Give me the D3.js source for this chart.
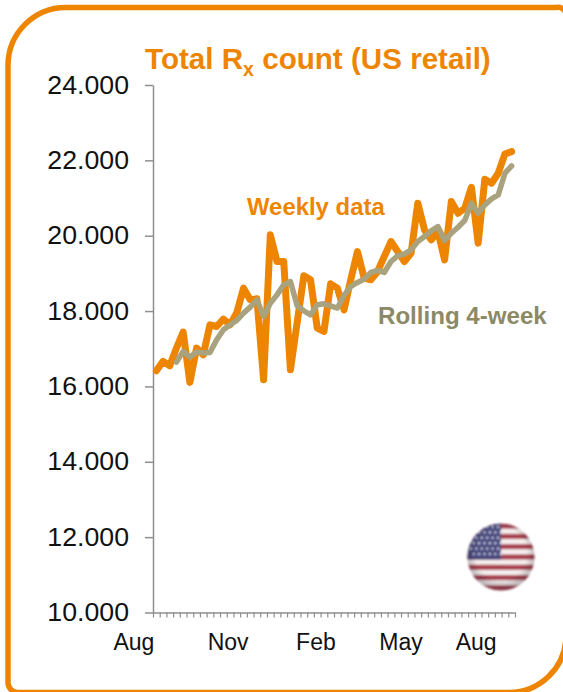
<!DOCTYPE html>
<html><head><meta charset="utf-8">
<script src="https://cdn.jsdelivr.net/npm/d3@7"></script>
<style>html,body{margin:0;padding:0;background:#fff}svg{display:block}text{font-family:"Liberation Sans",Arial,sans-serif}</style>
</head><body><svg id="c" width="563" height="692"></svg>
<script>
const weekly=[16417,16664,16549,17018,17443,16107,17018,16841,17636,17591,17787,17636,17955,18609,18300,18326,16178,20023,19315,19315,16443,17690,18936,18830,17549,17460,18723,18609,18034,18830,19580,18874,18830,19050,19447,19845,19580,19315,19538,20863,20156,19890,20110,19360,20906,20597,20730,21287,19803,21500,21394,21659,22170,22230];
const rollingStart=3;
const rolling=[16647,16930,16780,16913,16886,16900,17240,17504,17636,17750,17945,18105,18300,17858,18210,18430,18697,18785,18140,18007,17900,18167,18193,18140,18080,18414,18653,18760,18848,19024,19077,19024,19315,19466,19520,19625,19845,19977,20129,20243,19872,20068,20226,20402,20863,20597,20818,20977,21083,21659,21852];
const yTicks=[10000,12000,14000,16000,18000,20000,22000,24000];
const monthLabels=["Aug","Nov","Feb","May","Aug"];
const monthWeeks=[-2.85,11.2,24.3,37,48.2];

const ORANGE="#ee8500",GREY="#a8a27f",GREYTXT="#8b8966",AXIS="#8f8f8f";
const svg=d3.select("#c");
const W=weekly.length;
const xEdge=d3.scaleLinear().domain([0,W]).range([153,515]);
const y=d3.scaleLinear().domain([10000,24000]).range([612.5,85]);
const x=i=>xEdge(i+0.5);

svg.append("path")
  .attr("d","M8,66 A58,58 0 0 1 66,7.5 H556 A8,8 0 0 1 566,16 V636 A57,57 0 0 1 508,692.5 H18 A10,10 0 0 1 8,682 Z")
  .attr("fill","#fff").attr("stroke",ORANGE).attr("stroke-width",5.5);

// axes
const gy=svg.append("g").attr("transform","translate(153,0)")
  .call(d3.axisLeft(y).tickValues(yTicks).tickSize(8).tickSizeOuter(0).tickFormat(d=>d3.format(",")(d).replace(",",".")));
gy.selectAll("path,line").attr("stroke",AXIS).attr("stroke-width",1.5);
gy.selectAll("text").attr("font-size",26.7).attr("fill","#111").attr("x",-24).attr("dy","0.3em");
const gx=svg.append("g").attr("transform","translate(0,612.5)")
  .call(d3.axisBottom(xEdge).tickValues(d3.range(W+1)).tickSize(5).tickSizeOuter(0).tickFormat(""));
gx.selectAll("path,line").attr("stroke",AXIS).attr("stroke-width",1.2);
gx.select("path").attr("stroke-width",1.5);
svg.append("g").selectAll("text").data(monthLabels).join("text")
  .attr("x",(d,i)=>xEdge(monthWeeks[i])).attr("y",650).attr("text-anchor","middle")
  .attr("font-size",23).attr("fill","#111").text(d=>d);

// lines
const line=d3.line().x(d=>x(d[0])).y(d=>y(d[1]));
svg.append("path").attr("d",line(weekly.map((v,i)=>[i,v])))
  .attr("fill","none").attr("stroke",ORANGE).attr("stroke-width",7).attr("stroke-linejoin","round").attr("stroke-linecap","round");
svg.append("path").attr("d",line(rolling.map((v,i)=>[i+rollingStart,v])))
  .attr("fill","none").attr("stroke",GREY).attr("stroke-width",5.5).attr("stroke-linejoin","round").attr("stroke-linecap","round");

// labels
const t=svg.append("text").attr("x",145).attr("y",69).attr("font-size",29.6).attr("font-weight","bold").attr("fill",ORANGE);
t.append("tspan").text("Total R");
t.append("tspan").attr("font-size",19.5).attr("dy",7).text("x");
t.append("tspan").attr("dy",-7).text(" count (US retail)");
svg.append("text").attr("x",247).attr("y",215).attr("font-size",23.9).attr("font-weight","bold").attr("fill",ORANGE).text("Weekly data");
svg.append("text").attr("x",378).attr("y",324).attr("font-size",24.1).attr("font-weight","bold").attr("fill",GREYTXT).text("Rolling 4-week");

// flag badge
const defs=svg.append("defs");
defs.append("clipPath").attr("id","fc").append("circle").attr("cx",501).attr("cy",557).attr("r",33.5);
defs.append("filter").attr("id","bl").append("feGaussianBlur").attr("stdDeviation",0.8);
const rg=defs.append("radialGradient").attr("id","sh").attr("cx","50%").attr("cy","45%").attr("r","55%");
rg.append("stop").attr("offset","70%").attr("stop-color","#000").attr("stop-opacity",0);
rg.append("stop").attr("offset","100%").attr("stop-color","#403040").attr("stop-opacity",0.35);
const f=svg.append("g").attr("filter","url(#bl)");
const fi=f.append("g").attr("clip-path","url(#fc)");
const stripeH=67/13;
d3.range(13).forEach(i=>fi.append("rect").attr("x",467).attr("y",523.5+i*stripeH).attr("width",68).attr("height",stripeH+0.3)
  .attr("fill",i%2?"#f6eeee":"#a9404f"));
fi.append("rect").attr("x",467).attr("y",523.5).attr("width",34).attr("height",stripeH*7).attr("fill","#47497f");
d3.range(6).forEach(r=>d3.range(6).forEach(c=>fi.append("circle").attr("cx",471+c*5.4+(r%2?2.7:0)).attr("cy",527+r*5.4).attr("r",1.1).attr("fill","#e8e8f4")));
f.append("circle").attr("cx",501).attr("cy",557).attr("r",33.5).attr("fill","url(#sh)");
</script></body></html>
